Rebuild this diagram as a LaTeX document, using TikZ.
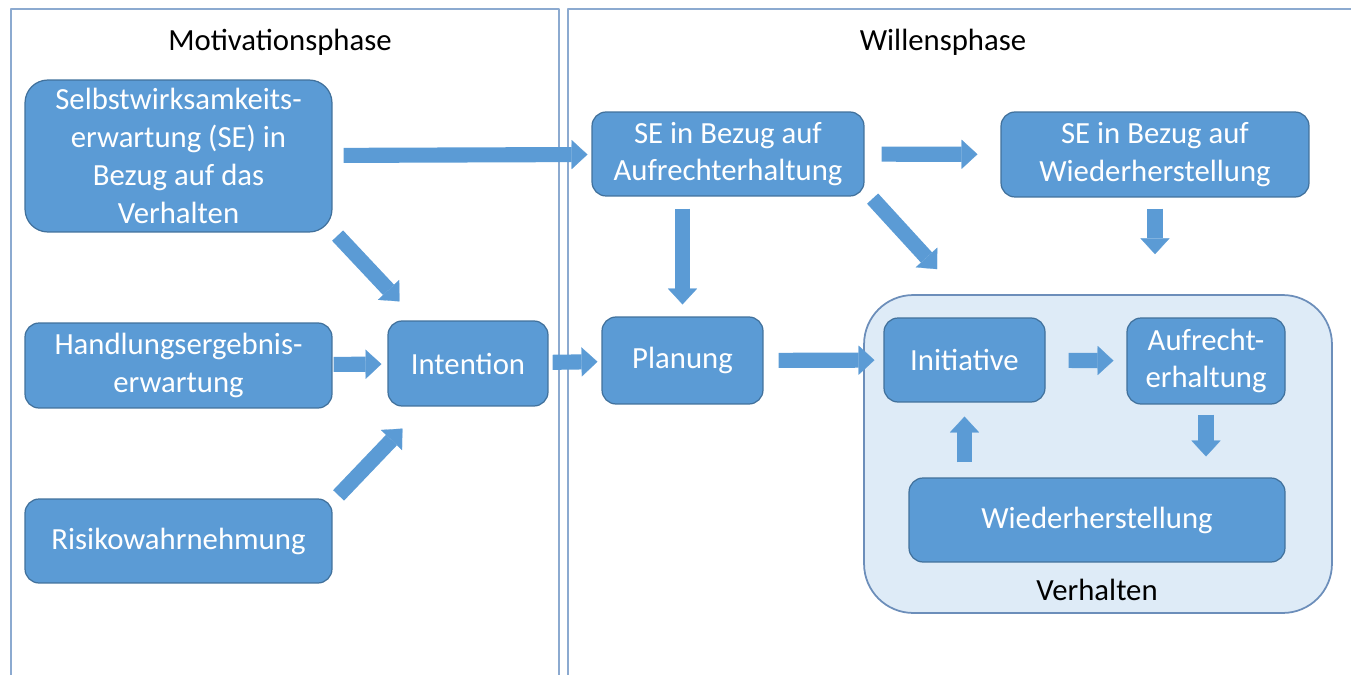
\documentclass[tikz,border=0pt]{standalone}
\usepackage{fontspec}
\setmainfont{Carlito}
\usetikzlibrary{arrows.meta,calc}
\definecolor{boxblue}{RGB}{91,155,213}
\definecolor{boxline}{RGB}{65,113,156}
\definecolor{lightfill}{RGB}{222,235,247}
\definecolor{bigline}{RGB}{108,142,186}
\definecolor{framecol}{RGB}{140,170,208}
\begin{document}
\begin{tikzpicture}[x=0.02cm, y=-0.02cm, font=\fontsize{17.5pt}{21.5pt}\selectfont, line join=round,
	box/.style={draw=boxline, fill=boxblue, text=white, rounded corners=8pt, inner sep=0pt, align=center, line width=0.7pt},
	fat/.style={boxblue, line width=8.6pt, -{Triangle[width=16.6pt, length=9pt, line width=0.1pt]}},
	frame/.style={framecol, line width=1pt}]
				\useasboundingbox (0,0) rectangle (1351,675);
				%\draw[gray!10] (0,0) grid[step=50] (1351,675);
				\draw[frame] (11,676)--(11,9)--(559,9)--(559,676);
				\draw[frame] (568,676)--(568,9)--(1352,9);
				\node (motiv) at (280,42) {Motivationsphase};
				\node (willen) at (943,42) {Willensphase};
				% Motivationsphase
				\node[box, rounded corners=13pt, minimum width=6.14cm, minimum height=3.04cm] (selbst) at (178.5,156) {Selbstwirksamkeits-\\erwartung (SE) in\\Bezug auf das\\Verhalten};
				\node[box, minimum width=6.14cm, minimum height=1.7cm] (handlung) at (178.5,365.5) {Handlungsergebnis-\\erwartung};
				\node[box, minimum width=6.14cm, minimum height=1.68cm] (risiko) at (178.5,541) {Risikowahrnehmung};
				\node[box, minimum width=3.2cm, minimum height=1.7cm] (intention) at (468,363.5) {Intention};
				% Willensphase
				\node[box, minimum width=5.44cm, minimum height=1.68cm] (seauf) at (728,154) {SE in Bezug auf\\Aufrechterhaltung};
				\node[box, minimum width=6.16cm, minimum height=1.7cm] (sewieder) at (1155,154.5) {SE in Bezug auf\\Wiederherstellung};
				\node[box, minimum width=3.22cm, minimum height=1.74cm] (planung) at (682.5,360.5) {Planung};
				\node[draw=bigline, fill=lightfill, rounded corners=28pt, line width=1pt, inner sep=0pt, minimum width=9.36cm, minimum height=6.36cm] (verhalten) at (1098,454) {};
				\node (verhlabel) at (1097,590) {Verhalten};
				\node[box, minimum width=3.22cm, minimum height=1.68cm] (initiative) at (964.5,360) {Initiative};
				\node[box, minimum width=3.16cm, minimum height=1.72cm] (aufrecht) at (1206,361) {Aufrecht-\\erhaltung};
				\node[box, minimum width=7.52cm, minimum height=1.68cm] (wieder) at (1097,520) {Wiederherstellung};
				% Pfeile
				\draw[fat, shorten <=0.22cm, shorten >=0.08cm] (selbst) -- (seauf);
				\draw[fat] ($(selbst.south east)+(5,3)$) -- ($(intention.north west)+(12,-19)$);
				\draw[fat, shorten <=0.02cm, shorten >=0.12cm] (handlung) -- (intention);
				\draw[fat] ($(risiko.north east)+(6,-3)$) -- ($(intention.south west)+(15,22)$);
				\draw[fat, shorten <=0.08cm, shorten >=0.08cm] (intention) -- (planung);
				\draw[fat, shorten <=0.24cm, shorten >=0.24cm] (seauf.south -| planung) -- (planung.north);
				\draw[fat] ($(seauf.south east)+(8,2)$) -- ($(verhalten.north west)+(74,-25)$);
				\draw[fat, shorten <=0.34cm, shorten >=0.46cm] (seauf) -- (sewieder);
				\draw[fat, shorten <=0.22cm, shorten >=0.8cm] (sewieder.south) -- (sewieder.south |- verhalten.north);
				\draw[fat, shorten <=0.3cm, shorten >=0.18cm] (planung) -- (initiative);
				\draw[fat, shorten <=0.46cm, shorten >=0.26cm] (initiative) -- (aufrecht);
				\draw[fat, shorten <=0.2cm, shorten >=0.42cm] (aufrecht.south) -- (aufrecht.south |- wieder.north);
				\draw[fat, shorten <=0.3cm, shorten >=0.28cm] (wieder.north -| initiative) -- (initiative.south);
\end{tikzpicture}
\end{document}
